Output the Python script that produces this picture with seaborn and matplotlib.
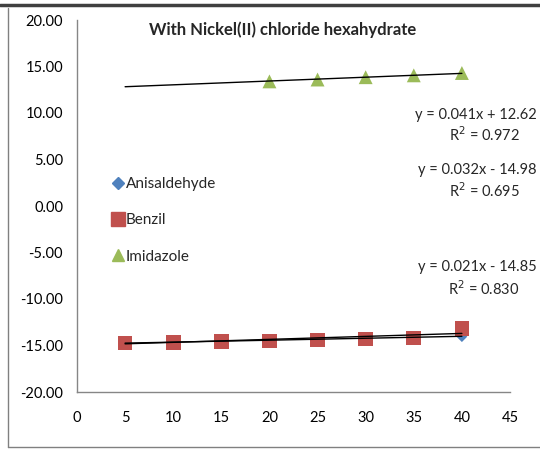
import matplotlib
matplotlib.use("Agg")
import matplotlib.pyplot as plt
from matplotlib.lines import Line2D
import seaborn as sns
import pandas as pd
import numpy as np

sns.set_style("white")
plt.rcParams['font.family'] = ['Lato', 'DejaVu Sans']

title = "With Nickel(II) chloride hexahydrate"
series = ["Anisaldehyde", "Benzil", "Imidazole"]
x_all = [5, 10, 15, 20, 25, 30, 35, 40]
x_imid = [20, 25, 30, 35, 40]
anisaldehyde = [-14.75, -14.65, -14.55, -14.45, -14.35, -14.3, -14.2, -14.05]
benzil = [-14.73, -14.7, -14.6, -14.5, -14.4, -14.3, -14.2, -13.2]
imidazole = [13.4, 13.6, 13.85, 14.05, 14.3]
slopes = [0.021, 0.032, 0.041]
intercepts = [-14.85, -14.98, 12.62]
r2 = [0.830, 0.695, 0.972]
trend_x = [5, 40]
colors = ["#4F81BD", "#C0504D", "#9BBB59"]
markers = ["D", "s", "^"]
sizes = [30, 110, 100]
xticks = [0, 5, 10, 15, 20, 25, 30, 35, 40, 45]
yticks = [-20, -15, -10, -5, 0, 5, 10, 15, 20]

df = pd.concat([
    pd.DataFrame({"x": x_all, "y": anisaldehyde, "s": series[0]}),
    pd.DataFrame({"x": x_all, "y": benzil, "s": series[1]}),
    pd.DataFrame({"x": x_imid, "y": imidazole, "s": series[2]}),
])

fig = plt.figure(figsize=(5.4, 4.67), dpi=100)
ax = fig.add_axes([77/540, 1-392/467, (510-77)/540, (392-20)/467])

# trendlines
for m, b in zip(slopes, intercepts):
    tx = np.array(trend_x, dtype=float)
    ax.plot(tx, m*tx + b, color="black", lw=1.0, zorder=3)

for name, c, mk, sz in zip(series, colors, markers, sizes):
    sub = df[df.s == name]
    sns.scatterplot(data=sub, x="x", y="y", color=c, marker=mk, s=sz,
                    edgecolor="none", ax=ax, zorder=2, legend=False)

ax.set_xlim(0, 45)
ax.set_ylim(-20, 20)
ax.set_xticks(xticks)
ax.set_yticks(yticks)
ax.set_yticklabels([f"{v:.2f}" for v in yticks])
ax.set_xlabel("")
ax.set_ylabel("")
ax.tick_params(axis="both", length=0, labelsize=10.5, colors="black")
ax.tick_params(axis="y", pad=10)
ax.tick_params(axis="x", pad=14)
for sp in ["top", "right"]:
    ax.spines[sp].set_visible(False)
for sp in ["left", "bottom"]:
    ax.spines[sp].set_color("#868686")
    ax.spines[sp].set_linewidth(1.0)
ax.set_facecolor("none")

# legend
handles = [Line2D([], [], ls="none", marker=mk, color=c, markersize=ms)
           for c, mk, ms in zip(colors, markers, [6, 10, 8])]
leg = ax.legend(handles, series, loc="upper left", bbox_to_anchor=(0.045, 0.614),
                frameon=False, fontsize=11, handletextpad=0.0, labelspacing=1.45,
                handlelength=1.0)

# equations
eq_pos = [(267, 289), (170, 191), (115, 135)]
for m, b, r, (y1, y2) in zip(slopes, intercepts, r2, eq_pos):
    sign = "+" if b >= 0 else "-"
    fig.text(537/540, 1-y1/467, f"y = {m:.3f}x {sign} {abs(b):.2f}", ha="right",
             va="center", fontsize=10.5)
    fig.text(484/540, 1-y2/467, f"R$^2$ = {r:.3f}", ha="center", va="center",
             fontsize=10.5)

fig.text(283/540, 1-30/467, title, ha="center", va="center", fontsize=12,
         fontweight="bold")

# frame lines
fig.add_artist(Line2D([0, 1], [1-5/467, 1-5/467], color="#404040", lw=2.5))
fig.add_artist(Line2D([8/540, 8/540], [1-8/467, 1-447/467], color="#808080", lw=1))
fig.add_artist(Line2D([8/540, 1], [1-447/467, 1-447/467], color="#808080", lw=1))

fig.savefig("out.png", dpi=100, facecolor="white")
